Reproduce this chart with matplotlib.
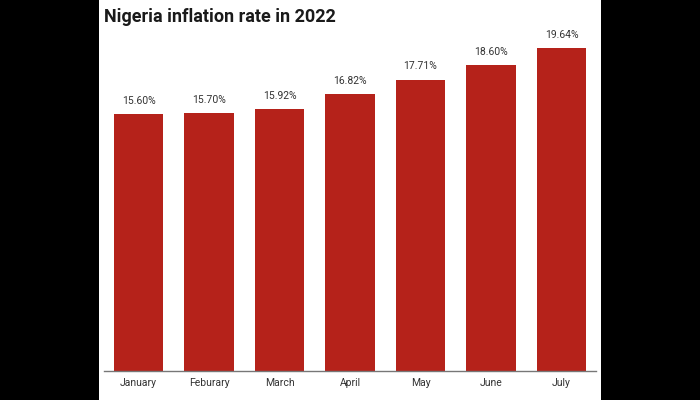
import matplotlib.pyplot as plt
from matplotlib.patches import Rectangle

months = ['January', 'Feburary', 'March', 'April', 'May', 'June', 'July']
rates = [15.60, 15.70, 15.92, 16.82, 17.71, 18.60, 19.64]

plt.rcParams['font.family'] = ['Roboto', 'DejaVu Sans']

fig = plt.figure(figsize=(7, 4), dpi=100, facecolor='black')
# white card in the middle
fig.patches.append(Rectangle((99 / 700, 0), 502 / 700, 1, transform=fig.transFigure,
                             facecolor='white', edgecolor='none', zorder=-5))

ax = fig.add_axes([104 / 700, 29 / 400, 492 / 700, 341 / 400])
ax.set_facecolor('none')

x = range(len(months))
bars = ax.bar(x, rates, width=0.70, color='#B5221A')
for xi, r in zip(x, rates):
    ax.text(xi, r + 0.5, f'{r:.2f}%', ha='center', va='bottom', fontsize=7.5, color='#333333')

ax.set_xlim(-0.49, 6.49)
ax.set_ylim(0, 20.73)
ax.set_xticks(list(x))
ax.set_xticklabels(months, fontsize=7.5, color='#333333')
ax.tick_params(axis='x', length=0, pad=5)
ax.set_yticks([])
for s in ['top', 'right', 'left']:
    ax.spines[s].set_visible(False)
ax.spines['bottom'].set_color('#777777')
ax.spines['bottom'].set_linewidth(1)

fig.text(104 / 700, 1 - 17 / 400, 'Nigeria inflation rate in 2022', fontsize=13,
         fontweight='bold', color='#1a1a1a', ha='left', va='center')

fig.savefig('out.png', dpi=100, facecolor='black')
